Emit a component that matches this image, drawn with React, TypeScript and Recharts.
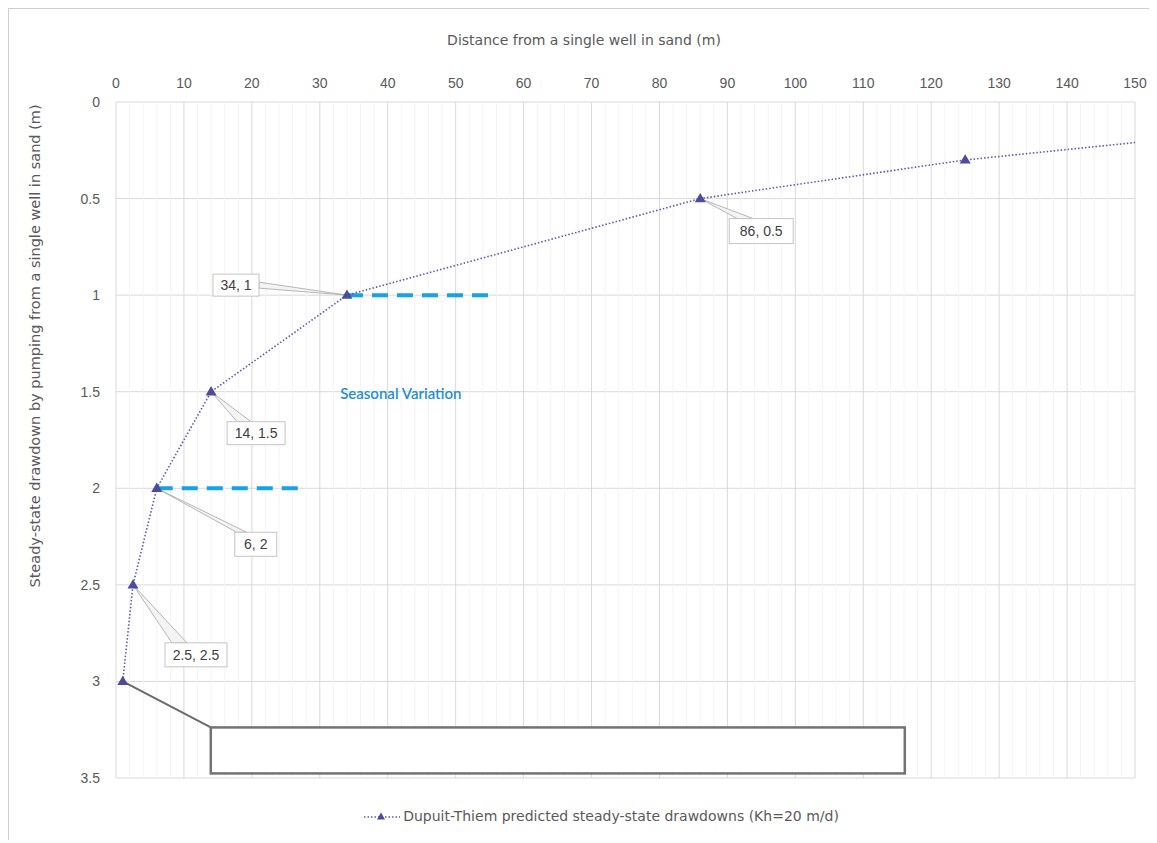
import {
  ComposedChart,
  CartesianGrid,
  Legend,
  Line,
  ReferenceDot,
  ReferenceLine,
  XAxis,
  YAxis,
} from 'recharts'

// Dupuit-Thiem points
const distances = [1, 2.5, 6, 14, 34, 86, 125]
const drawdowns = [3, 2.5, 2, 1.5, 1, 0.5, 0.3]
// the dotted trend keeps going to the right edge, no marker there
const trendEnd = { x: 150, y: 0.21 }

const calloutLabels = ['', '2.5, 2.5', '6, 2', '14, 1.5', '34, 1', '86, 0.5']

// seasonal variation dashes
const seasonalFrom = [34, 6]
const seasonalTo = [55, 27]
const seasonalLevel = [1, 2]
const seasonalText = { x: 33, y: 1.5, label: 'Seasonal Variation' }

const xTicks = [0, 10, 20, 30, 40, 50, 60, 70, 80, 90, 100, 110, 120, 130, 140, 150]
const yTicks = [0, 0.5, 1, 1.5, 2, 2.5, 3, 3.5]
const xMinor = Array.from({ length: 76 }, (_, i) => i * 2).filter((v) => v % 10 !== 0)

const data = distances.map((d, i) => ({ x: d, y: drawdowns[i] })).concat([trendEnd])

// callout box placement relative to its point (px)
const calloutBoxes = [
  { dx: 88, dy: 46, w: 694, h: 46, a: [0, 0], b: [0, 0] },
  { dx: 32, dy: 58, w: 62, h: 24, a: [7, 0], b: [22, 0] },
  { dx: 78, dy: 44, w: 42, h: 24, a: [2, 0], b: [12, 0] },
  { dx: 16, dy: 30, w: 58, h: 23, a: [10, 0], b: [24, 0] },
  { dx: -134, dy: -21, w: 46, h: 22, a: [46, 8], b: [46, 14] },
  { dx: 29, dy: 20, w: 64, h: 25, a: [8, 0], b: [24, 0] },
]

const FONT = '"Liberation Sans", Arial, sans-serif'
const WIDE = '"DejaVu Sans", "Liberation Sans", sans-serif'
const AXIS_GREY = '#595959'
const MARKER = '#4b4c9e'

function Triangle({ cx, cy, size = 11 }: { cx: number; cy: number; size?: number }) {
  const h = size * 0.85
  return (
    <polygon
      points={`${cx},${cy - h / 2 - 1} ${cx - size / 2},${cy + h / 2 - 1} ${cx + size / 2},${cy + h / 2 - 1}`}
      fill={MARKER}
    />
  )
}

function makeCallout(i: number) {
  return (props: any) => {
    const { cx, cy } = props
    const c = calloutBoxes[i]
    const bx = cx + c.dx
    const by = cy + c.dy
    if (i === 0) {
      return (
        <g>
          <line x1={cx} y1={cy} x2={bx} y2={by} stroke="#6b6b6b" strokeWidth={2} />
          <rect x={bx} y={by} width={c.w} height={c.h} fill="#fff" stroke="#737373" strokeWidth={2.5} />
        </g>
      )
    }
    return (
      <g>
        <polygon
          points={`${cx},${cy} ${bx + c.a[0]},${by + c.a[1]} ${bx + c.b[0]},${by + c.b[1]}`}
          fill="#f4f4f4"
          stroke="#a6a6a6"
          strokeWidth={0.8}
        />
        <rect x={bx} y={by} width={c.w} height={c.h} fill="#fff" stroke="#c4c4c4" strokeWidth={1} />
        <text
          x={bx + c.w / 2}
          y={by + c.h / 2}
          textAnchor="middle"
          dominantBaseline="central"
          fontSize={14}
          fontFamily={FONT}
          fill="#404040"
        >
          {calloutLabels[i]}
        </text>
      </g>
    )
  }
}

function LegendContent() {
  return (
    <div
      style={{
        display: 'flex',
        justifyContent: 'center',
        alignItems: 'center',
        fontFamily: WIDE,
        fontSize: 14,
        color: AXIS_GREY,
      }}
    >
      <svg width={36} height={14} style={{ marginRight: 3 }}>
        <line x1={0} y1={8} x2={36} y2={8} stroke="#5e5eb0" strokeWidth={1.5} strokeDasharray="1.5 2" />
        <Triangle cx={17} cy={8} size={8} />
      </svg>
      <span>Dupuit-Thiem predicted steady-state drawdowns (Kh=20 m/d)</span>
    </div>
  )
}

export default function App() {
  return (
    <div style={{ position: 'relative', width: 1149, height: 832, fontFamily: FONT }}>
      <ComposedChart
        width={1149}
        height={832}
        data={data}
        margin={{ top: 64, right: 22, bottom: 62, left: 48 }}
      >
        <CartesianGrid stroke="#d9d9d9" verticalValues={xTicks} horizontalValues={yTicks} />
        {xMinor.map((v) => (
          <ReferenceLine key={'m' + v} x={v} stroke="#f4f4f4" strokeWidth={1} />
        ))}
        <XAxis
          type="number"
          dataKey="x"
          orientation="top"
          domain={[0, 150]}
          ticks={xTicks}
          axisLine={false}
          tickLine={false}
          tickSize={0}
          tickMargin={14}
          height={30}
          interval={0}
          tick={{ fill: AXIS_GREY, fontSize: 14, fontFamily: FONT }}
          label={{
            content: () => (
              <text x={576} y={37} textAnchor="middle" fontSize={14} fontFamily={WIDE} fill={AXIS_GREY}>
                Distance from a single well in sand (m)
              </text>
            ),
          }}
        />
        <YAxis
          type="number"
          reversed
          domain={[0, 3.5]}
          ticks={yTicks}
          axisLine={false}
          tickLine={false}
          tickSize={0}
          tickMargin={16}
          width={60}
          interval={0}
          tick={{ fill: AXIS_GREY, fontSize: 14, fontFamily: FONT }}
          label={{
            content: () => (
              <text
                x={27}
                y={338}
                transform="rotate(-90 27 338)"
                textAnchor="middle"
                dominantBaseline="central"
                fontSize={14.5}
                fontFamily={WIDE}
                fill={AXIS_GREY}
              >
                Steady-state drawdown by pumping from a single well in sand (m)
              </text>
            ),
          }}
        />
        {seasonalFrom.map((from, i) => (
          <ReferenceLine
            key={'s' + i}
            segment={[
              { x: from, y: seasonalLevel[i] },
              { x: seasonalTo[i], y: seasonalLevel[i] },
            ]}
            stroke="#13a3e6"
            strokeWidth={4}
            strokeDasharray="16 9"
          />
        ))}
        <ReferenceDot
          x={seasonalText.x}
          y={seasonalText.y}
          ifOverflow="visible"
          shape={(p: any) => (
            <text
              x={p.cx}
              y={p.cy + 1}
              dominantBaseline="central"
              fontSize={15}
              fontWeight={600}
              fontFamily="Lato, 'Open Sans', sans-serif"
              fill="#1f8fd4"
            >
              {seasonalText.label}
            </text>
          )}
        />
        {calloutLabels.map((_, i) => (
          <ReferenceDot
            key={'c' + i}
            x={distances[i]}
            y={drawdowns[i]}
            ifOverflow="visible"
            shape={makeCallout(i)}
          />
        ))}
        <Line
          type="linear"
          dataKey="y"
          stroke="#5a5aae"
          strokeWidth={1.6}
          strokeDasharray="1.5 2"
          isAnimationActive={false}
          legendType="none"
          dot={(p: any) =>
            p.index < distances.length ? (
              <Triangle key={'d' + p.index} cx={p.cx} cy={p.cy} />
            ) : (
              <g key={'d' + p.index} />
            )
          }
          activeDot={false}
        />
        <Legend
          layout="horizontal"
          verticalAlign="middle"
          align="center"
          wrapperStyle={{ top: 800, left: 19, width: 1149 }}
          content={() => <LegendContent />}
        />
      </ComposedChart>
      <div
        style={{
          position: 'absolute',
          zIndex: 5,
          left: 0,
          top: 0,
          width: 1149,
          height: 831,
          borderLeft: '1px solid #cfcfcf',
          borderTop: '1px solid #cfcfcf',
          borderBottom: '1px solid #cfcfcf',
          pointerEvents: 'none',
        }}
      />
    </div>
  )
}
